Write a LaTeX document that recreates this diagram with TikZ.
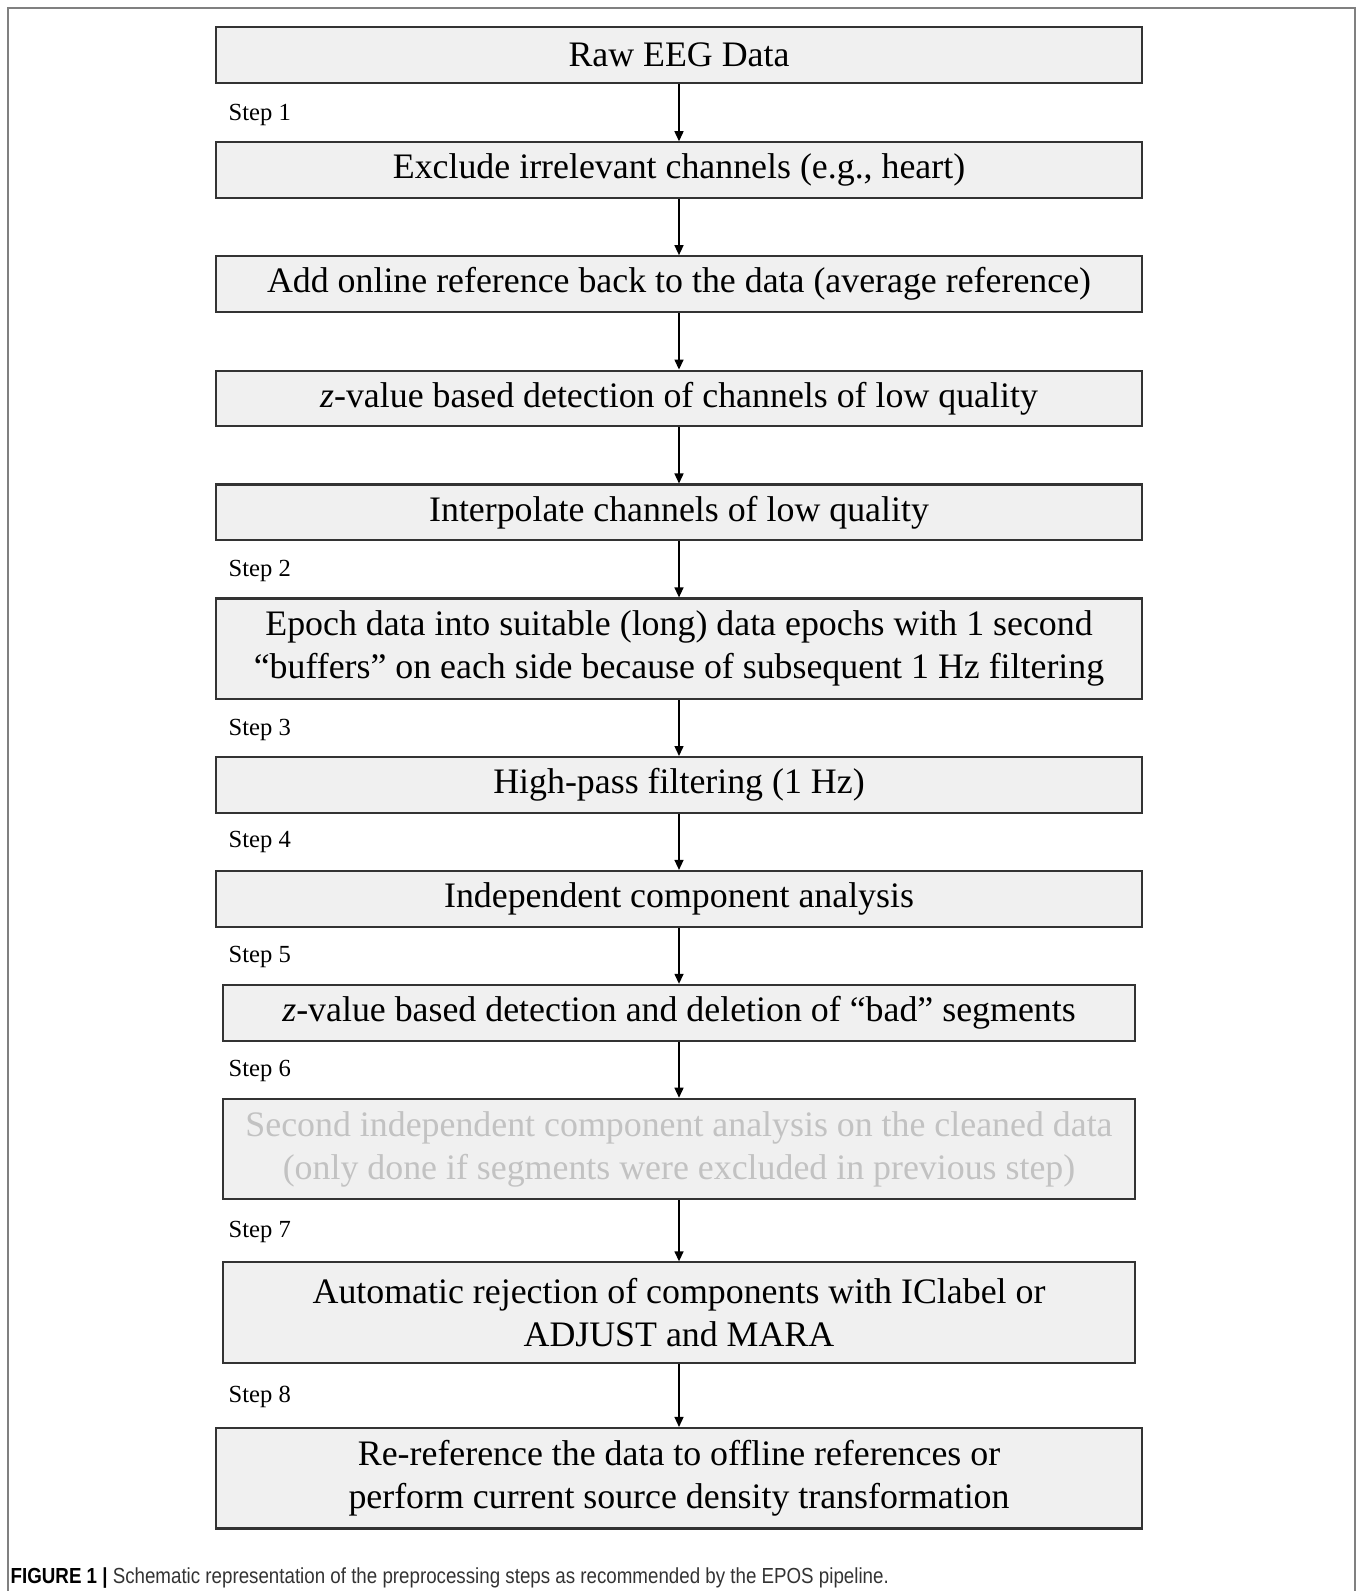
\documentclass[tikz,border=0pt]{standalone}
\usepackage{fontspec}
\setmainfont{Liberation Serif}
\setsansfont{Liberation Sans}
\newfontfamily\capfont[FakeStretch=0.86]{Liberation Sans}
\usetikzlibrary{positioning}
\usetikzlibrary{arrows.meta}
\definecolor{boxfill}{HTML}{F0F0F0}
\definecolor{fadetext}{HTML}{C2C2C2}
\definecolor{framegray}{HTML}{808080}
\definecolor{captext}{HTML}{333333}

\begin{document}
\begin{tikzpicture}[>={Triangle[length=1mm,width=0.9mm]},font=\fontsize{10.2}{12.2}\selectfont,
    stepbox/.style={draw=black!80,semithick,fill=boxfill,minimum width=9.26cm,minimum height=0.558cm,align=center,inner sep=0pt},
    narrowbox/.style={stepbox,minimum width=9.12cm},
    tallbox/.style={minimum height=1.005cm},
    steplabel/.style={font=\fontsize{7}{8}\selectfont,inner sep=0pt,anchor=west}]
    \useasboundingbox (0,0) rectangle (13.58,-15.91);
    \draw [framegray,semithick] (0.08,-15.91) -- (0.08,-0.08) -- (13.55,-0.08) -- (13.55,-15.91);

    \node (raw) [stepbox] at (6.79,-0.553) {Raw EEG Data};
    \node (excl) [stepbox,below=0.57cm of raw] {Exclude irrelevant channels (e.g., heart)};
    \node (online) [stepbox,below=0.56cm of excl] {Add online reference back to the data (average reference)};
    \node (zdet) [stepbox,below=0.565cm of online] {\textit{z}-value based detection of channels of low quality};
    \node (interp) [stepbox,below=0.56cm of zdet] {Interpolate channels of low quality};
    \node (epoch) [stepbox,tallbox,below=0.56cm of interp] {Epoch data into suitable (long) data epochs with 1 second\\``buffers'' on each side because of subsequent 1 Hz filtering};
    \node (hipass) [stepbox,below=0.56cm of epoch] {High-pass filtering (1 Hz)};
    \node (ica) [stepbox,below=0.56cm of hipass] {Independent component analysis};
    \node (badseg) [narrowbox,below=0.56cm of ica] {\textit{z}-value based detection and deletion of ``bad'' segments};
    \node (ica2) [narrowbox,tallbox,text=fadetext,below=0.56cm of badseg] {Second independent component analysis on the cleaned data\\(only done if segments were excluded in previous step)};
    \node (autorej) [narrowbox,tallbox,below=0.61cm of ica2] {Automatic rejection of components with IClabel or\\ADJUST and MARA};
    \node (reref) [stepbox,tallbox,below=0.63cm of autorej] {Re-reference the data to offline references or\\perform current source density transformation};

    % step labels
    \node (s1) [steplabel] at (2.28,-1.147) {Step 1};
    \node (s2) [steplabel] at (2.28,-5.714) {Step 2};
    \node (s3) [steplabel] at (2.28,-7.297) {Step 3};
    \node (s4) [steplabel] at (2.28,-8.424) {Step 4};
    \node (s5) [steplabel] at (2.28,-9.571) {Step 5};
    \node (s6) [steplabel] at (2.28,-10.708) {Step 6};
    \node (s7) [steplabel] at (2.28,-12.321) {Step 7};
    \node (s8) [steplabel] at (2.28,-13.966) {Step 8};

    \draw [thin,->] (raw) -- (excl);
    \draw [thin,->] (excl) -- (online);
    \draw [thin,->] (online) -- (zdet);
    \draw [thin,->] (zdet) -- (interp);
    \draw [thin,->] (interp) -- (epoch);
    \draw [thin,->] (epoch) -- (hipass);
    \draw [thin,->] (hipass) -- (ica);
    \draw [thin,->] (ica) -- (badseg);
    \draw [thin,->] (badseg) -- (ica2);
    \draw [thin,->] (ica2) -- (autorej);
    \draw [thin,->] (autorej) -- (reref);

    \node (cap) [anchor=west,inner sep=0pt,text=captext,font=\capfont\fontsize{6.2}{7}\selectfont] at (0.1,-15.78) {\textcolor{black}{\bfseries FIGURE 1 |} Schematic representation of the preprocessing steps as recommended by the EPOS pipeline.};
\end{tikzpicture}
\end{document}
